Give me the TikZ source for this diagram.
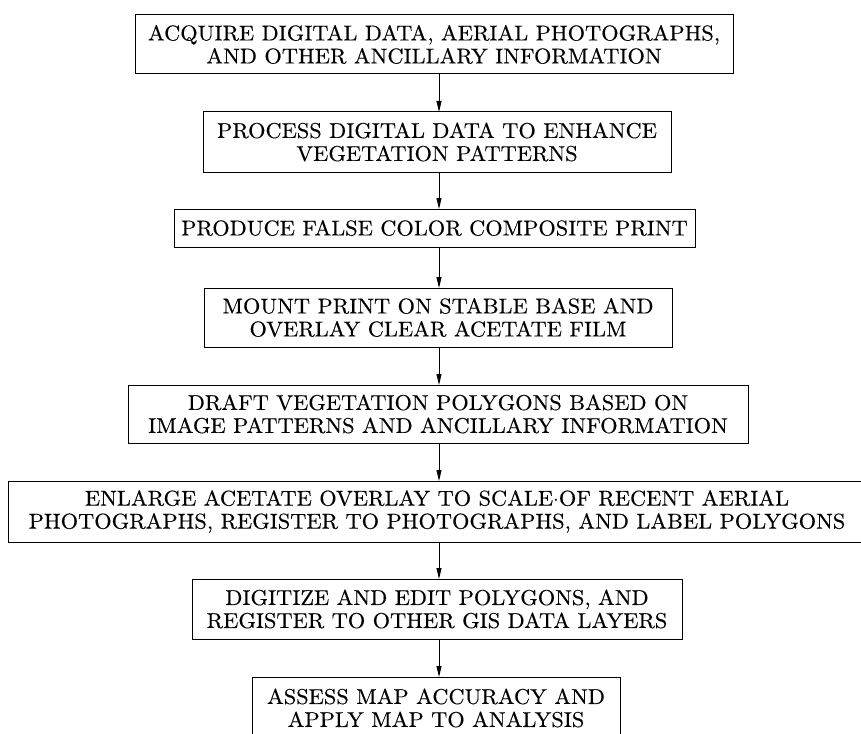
\documentclass[tikz,border=0pt]{standalone}
\usepackage{fontspec}
\newfontfamily\stepfont{lmroman10-regular.otf}[FakeStretch=1.04,FakeBold=0.3]
\usetikzlibrary{arrows.meta}
\begin{document}
\begin{tikzpicture}[x=1pt,y=-1pt,
  stepbox/.style={draw, line width=1pt, rectangle, inner sep=0pt, outer sep=0pt,
    align=center, font=\stepfont\fontsize{21.5}{23}\selectfont},
  flow/.style={line width=1pt, -{Triangle[length=11pt,width=5pt]}}]
\useasboundingbox (0,0) rectangle (861,733);
% process steps: centre and size of each box
\node[stepbox, minimum width=598pt, minimum height=59pt] (s1) at (434,44.5)
  {ACQUIRE DIGITAL DATA, AERIAL PHOTOGRAPHS,\\AND OTHER ANCILLARY INFORMATION};
\node[stepbox, minimum width=468pt, minimum height=60pt] (s2) at (437,142)
  {PROCESS DIGITAL DATA TO ENHANCE\\VEGETATION PATTERNS};
\node[stepbox, minimum width=521pt, minimum height=38pt] (s3) at (434.5,228)
  {PRODUCE FALSE COLOR COMPOSITE PRINT};
\node[stepbox, minimum width=468pt, minimum height=59pt] (s4) at (438,317.5)
  {MOUNT PRINT ON STABLE BASE AND\\OVERLAY CLEAR ACETATE FILM};
\node[stepbox, minimum width=620pt, minimum height=58pt] (s5) at (438,414)
  {DRAFT VEGETATION POLYGONS BASED ON\\IMAGE PATTERNS AND ANCILLARY INFORMATION};
\node[stepbox, minimum width=858pt, minimum height=61pt] (s6) at (437,511.5)
  {ENLARGE ACETATE OVERLAY TO SCALE$\cdot$OF RECENT AERIAL\\PHOTOGRAPHS, REGISTER TO PHOTOGRAPHS, AND LABEL POLYGONS};
\node[stepbox, minimum width=490pt, minimum height=60pt] (s7) at (437,609)
  {DIGITIZE AND EDIT POLYGONS, AND\\REGISTER TO OTHER GIS DATA LAYERS};
\node[stepbox, minimum width=368pt, minimum height=62pt] (s8) at (436,708)
  {ASSESS MAP ACCURACY AND\\APPLY MAP TO ANALYSIS};
% connectors along one vertical line
\coordinate (axis) at (439,0);
\foreach \a/\b in {s1/s2,s2/s3,s3/s4,s4/s5,s5/s6,s6/s7,s7/s8}
  \draw[flow] (\a.south -| axis) -- (\b.north -| axis);
\end{tikzpicture}
\end{document}
